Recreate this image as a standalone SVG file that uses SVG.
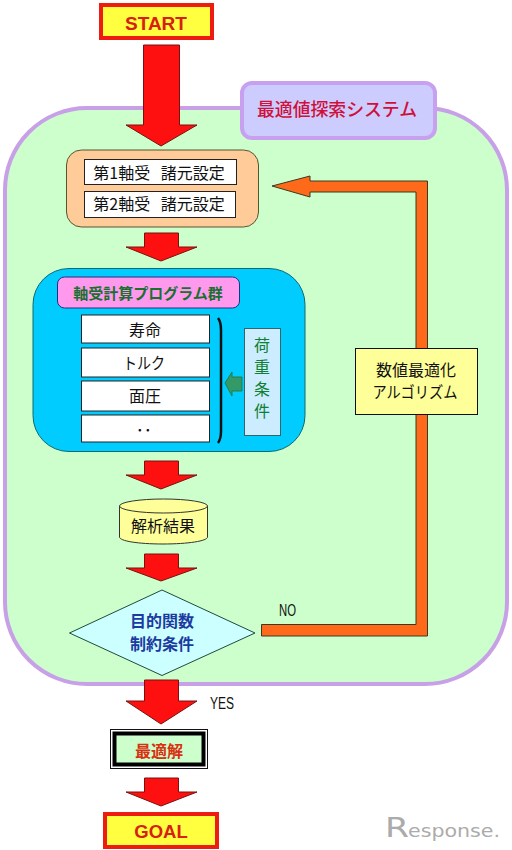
<svg xmlns="http://www.w3.org/2000/svg" width="512" height="850" viewBox="0 0 512 850">
<style>
text{font-family:"Noto Sans CJK JP","Liberation Sans",sans-serif;text-anchor:middle}
.arrow{fill:#ff1010;stroke:#7a1010;stroke-width:1}
.white{fill:#fff;stroke:#222;stroke-width:1}
.t{font-size:16px;fill:#111}
.term{fill:#ffff40;stroke:#ee1c10;stroke-width:4}
.termt{font-family:"Liberation Sans",sans-serif;font-weight:700;fill:#d82010}
.load{font-size:16px;fill:#108030}
.lat{font-family:"Liberation Sans",sans-serif;font-size:16px;fill:#111}
.logo{font-family:"DejaVu Sans",sans-serif;fill:#ababab}
</style>
<rect width="512" height="850" fill="#fff"/>
<g id="system-panel"><rect x="5" y="108" width="502" height="576" rx="82" ry="82" fill="#ccffcc" stroke="#c8a0e8" stroke-width="4"/></g>
<g id="system-label"><rect x="242" y="83" width="193" height="55" rx="10" fill="#ccccff" stroke="#c8a0f0" stroke-width="4"/><text x="337" y="116" font-size="18" font-weight="500" fill="#d0103a" textLength="160" lengthAdjust="spacingAndGlyphs">最適値探索システム</text></g>
<g id="start"><rect x="101" y="5" width="111" height="33" class="term"/><text x="156" y="30" class="termt" font-size="19">START</text></g>
<g id="spec"><rect x="66.500" y="150" width="192" height="77" rx="15" fill="#ffcc99" stroke="#555530" stroke-width="1"/>
<rect x="84.500" y="159.500" width="152" height="25" class="white"/><text x="159" y="179" class="t" word-spacing="7">第1軸受 諸元設定</text>
<rect x="84.500" y="191.500" width="151" height="26" class="white"/><text x="159" y="210" class="t" word-spacing="7">第2軸受 諸元設定</text></g>
<g id="programs"><rect x="33" y="268.500" width="272" height="183" rx="36" fill="#00ccff" stroke="#0c6a70" stroke-width="1"/>
<rect x="57.500" y="277" width="182" height="31" rx="7" fill="#ff99ee" stroke="#203080" stroke-width="1"/><text x="148" y="299" font-size="15" font-weight="700" fill="#187030">軸受計算プログラム群</text>
<rect x="81.500" y="315" width="128" height="28" class="white"/><text x="145" y="336" class="t">寿命</text>
<rect x="81.500" y="348" width="128" height="29" class="white"/><text x="144" y="369" class="t" textLength="42" lengthAdjust="spacingAndGlyphs">トルク</text>
<rect x="81.500" y="381" width="128" height="30" class="white"/><text x="145" y="402" class="t">面圧</text>
<rect x="81.500" y="415" width="128" height="27" class="white"/><text x="148" y="431" class="t">．．</text>
<path d="M218 318Q221 322 221 330V431Q221 439 218 443" fill="none" stroke="#111" stroke-width="2.500"/>
<rect x="244.500" y="328.500" width="36" height="107" fill="#ccecff" stroke="#336666" stroke-width="1"/>
<text x="262" y="351" class="load">荷</text><text x="262" y="373" class="load">重</text><text x="262" y="395" class="load">条</text><text x="262" y="417" class="load">件</text>
<path d="M225 383L232 372V377H242V391H232V396Z" fill="#339966" stroke="#208050" stroke-width="1"/></g>
<g id="result"><path d="M119.500 506V537C119.500 541 138 544 163 544S207.500 541 207.500 537V506Z" fill="#ffff99" stroke="#333" stroke-width="1"/><ellipse cx="163.500" cy="506" rx="44" ry="7" fill="#ffff99" stroke="#333" stroke-width="1"/><text x="163" y="532" class="t">解析結果</text></g>
<g id="decision"><path d="M162 590L255 633L162 675.500L69.500 633Z" fill="#ccffff" stroke="#1f4a3a" stroke-width="1"/><text x="162" y="627" font-size="16" font-weight="700" fill="#1c3aa0">目的関数</text><text x="162" y="650" font-size="16" font-weight="700" fill="#1c3aa0">制約条件</text></g>
<g id="optimum"><rect x="110.500" y="729.500" width="97" height="39" fill="#fff" stroke="#111" stroke-width="1"/><rect x="114.500" y="733.500" width="89" height="31" fill="#ccffcc" stroke="#000" stroke-width="4"/><text x="159" y="757" font-size="16" font-weight="700" fill="#d83010">最適解</text></g>
<g id="goal"><rect x="105" y="814" width="112" height="33" class="term"/><text x="161" y="838" class="termt" font-size="18.500">GOAL</text></g>
<g id="connectors">
<path class="arrow" d="M143.500 45H179.500V125H197L161 146L126 125H143.500Z"/>
<path class="arrow" d="M144.500 233H178.500V247H197L161 261L126 247H144.500Z"/>
<path class="arrow" d="M144.500 461H178.500V475H197L161 489L126 475H144.500Z"/>
<path class="arrow" d="M144.500 554H178.500V568H197L161 581L126 568H144.500Z"/>
<path class="arrow" d="M144.500 680H178.500V701H197L161 724L126 701H144.500Z"/>
<path class="arrow" d="M144.500 778H178.500V792H197L161 806L126 792H144.500Z"/>
<path d="M261.500 624.500H416V192H310V197L272 186L310 176V181H427.500V636H261.500Z" fill="#ff6a1a" stroke="#3a3a20" stroke-width="1"/>
</g>
<g id="algorithm"><rect x="355.500" y="348.500" width="122" height="66" fill="#ffff99" stroke="#111" stroke-width="1"/><text x="416" y="376" class="t" textLength="80" lengthAdjust="spacingAndGlyphs">数値最適化</text><text x="415" y="398" class="t" textLength="85" lengthAdjust="spacingAndGlyphs">アルゴリズム</text></g>
<text x="287.500" y="616" class="lat" textLength="17" lengthAdjust="spacingAndGlyphs">NO</text>
<text x="222" y="709" class="lat" font-size="17" textLength="24" lengthAdjust="spacingAndGlyphs">YES</text>
<g id="logo"><text x="397" y="837" class="logo" font-size="26" textLength="24" lengthAdjust="spacingAndGlyphs">R</text><text x="454" y="837" class="logo" font-size="18" textLength="92" lengthAdjust="spacingAndGlyphs">esponse.</text></g>
</svg>
